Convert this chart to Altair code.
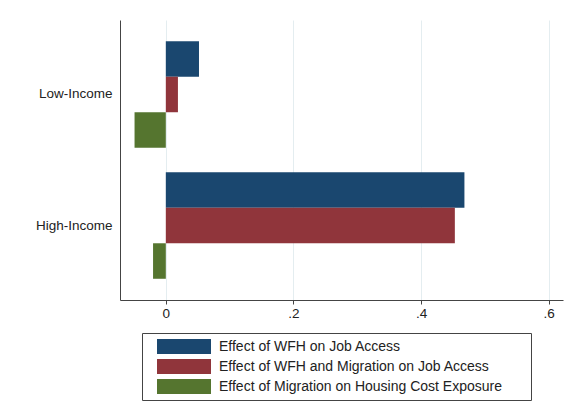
import altair as alt
import pandas as pd

# Income groups (top to bottom) and the three effect series
groups = ["Low-Income", "High-Income"]
series = [
    "Effect of WFH on Job Access",
    "Effect of WFH and Migration on Job Access",
    "Effect of Migration on Housing Cost Exposure",
]
low_income = [0.052, 0.019, -0.049]
high_income = [0.468, 0.453, -0.020]
colors = ["#1a476f", "#90353b", "#55752f"]
x_ticks = [0, 0.2, 0.4, 0.6]

rows = []
for g, vals in zip(groups, [low_income, high_income]):
    for s, v in zip(series, vals):
        rows.append({"group": g, "series": s, "value": v})
df = pd.DataFrame(rows)

# Wide rectangular legend key (54 x 15 px at symbolSize 225)
swatch = "M-1,-1 L6.2,-1 L6.2,1 L-1,1 Z"
font = "Liberation Sans"

chart = (
    alt.Chart(df)
    .mark_bar()
    .encode(
        x=alt.X(
            "value:Q",
            scale=alt.Scale(domain=[-0.0718, 0.6225], nice=False, zero=False),
            axis=alt.Axis(
                values=x_ticks,
                labelExpr="datum.value == 0 ? '0' : replace(format(datum.value, '.1f'), '0.', '.')",
                title=None,
                grid=True,
                gridColor="#e4edf0",
                gridWidth=1,
                domainColor="#444444",
                tickColor="#444444",
                tickSize=4,
                labelPadding=2,
                labelFontSize=13.5,
                labelColor="#222222",
                labelFont=font,
            ),
        ),
        y=alt.Y(
            "group:N",
            sort=groups,
            scale=alt.Scale(paddingInner=0.187, paddingOuter=0.162),
            axis=alt.Axis(
                title=None,
                ticks=False,
                grid=False,
                labelPadding=8,
                domainColor="#444444",
                labelFontSize=13.5,
                labelColor="#222222",
                labelFont=font,
            ),
        ),
        yOffset=alt.YOffset(
            "series:N",
            sort=series,
            scale=alt.Scale(paddingInner=0, paddingOuter=0),
        ),
        color=alt.Color(
            "series:N",
            sort=series,
            scale=alt.Scale(domain=series, range=colors),
            legend=alt.Legend(
                title="\u00a0",
                titleOrient="right",
                titlePadding=23,
                titleFontSize=13,
                orient="none",
                legendX=22,
                legendY=313,
                symbolType=swatch,
                symbolSize=225,
                symbolStrokeWidth=0,
                symbolOpacity=1,
                symbolOffset=9,
                labelOffset=47,
                padding=6,
                rowPadding=5,
                labelFontSize=14,
                labelFont=font,
                labelColor="#222222",
                labelLimit=500,
            ),
        ),
    )
    .properties(
        width=443,
        height=280,
        autosize=alt.AutoSizeParams(type="none"),
        padding={"left": 120, "top": 20, "right": 11, "bottom": 116},
        background="white",
    )
    .configure(font=font)
    .configure_view(stroke="transparent")
    .configure_legend(strokeColor="#444444", fillColor="white", cornerRadius=0)
)

chart.save("out.html", embed_options={"renderer": "svg", "actions": False})
